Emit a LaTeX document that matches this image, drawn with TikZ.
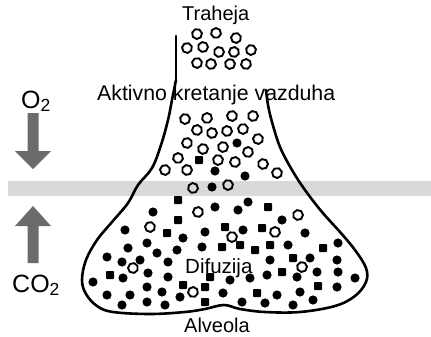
\documentclass[tikz,border=0pt]{standalone}
\usepackage{fontspec}
\setmainfont{Liberation Sans}
\definecolor{arrowgray}{gray}{0.42}
\definecolor{bandgray}{gray}{0.85}
\begin{document}
\begin{tikzpicture}[x=1pt,y=-1pt,
  lbl/.style={inner sep=0pt, anchor=base west, font=\fontsize{20}{20}\selectfont},
  gas/.style={inner sep=0pt, anchor=base west, font=\fontsize{25}{25}\selectfont},
  wall/.style={line width=2.6pt, line cap=round, line join=round},
  opn/.style={line width=1.9pt, line join=round},
  flow/.style={fill=arrowgray},
]
\useasboundingbox (0,0) rectangle (431,337);

% membrane band
\fill[bandgray] (8,181) rectangle (431,196);

% gas flow arrows
\fill[flow] (27.5,113) -- (38.5,113) -- (38.5,151) -- (51,151) -- (33,169)
  -- (15,151) -- (27.5,151) -- cycle;
\fill[flow] (27.5,263) -- (38.5,263) -- (38.5,226) -- (51,226) -- (33,206)
  -- (15,226) -- (27.5,226) -- cycle;

% trachea and alveolus wall
\draw[wall] (176,36) -- (176,80);
\draw[wall] plot[smooth, tension=0.6] coordinates {
  (176,80) (172,100) (168,120) (161,145) (152,168) (138,185) (128,203)
  (112,222) (97,240) (86,260) (82,280) (86,294) (97,306) (113,312)
  (150,314) (185,312) (205,309) (224,305) (240,309) (265,312) (300,312)
  (335,306) (355,296) (366,282) (366,268) (355,250) (340,232) (322,212)
  (305,190) (292,170) (280,147) (272,122) (268,105) (266,90)};

% oxygen molecules (open)
\foreach \x/\y/\r in {
  197/34/10, 216/33/40, 236/38/70,
  187/48/20, 203/47/50, 219/52/0, 234/52/30, 251/50/60,
  197/63/15, 211/64/45, 230/64/5, 246/64/35,
  185/119/10, 207/118/40, 232/116/20, 253/116/50,
  197/130/30, 212/133/0, 227/131/45, 243/129/15,
  187/143/25, 203/149/55, 223/147/5, 248/152/35, 258/139/20,
  178/158/40, 218/160/10, 235/162/30, 263/164/0,
  165/170/20, 187/170/50, 277/173/15,
  193/188/45, 228/185/10,
  198/212/30, 298/215/0, 150/227/20, 275/232/40, 232/237/10,
  133/268/25, 302/267/5, 193/292/35}
  \draw[opn, shift={(\x,\y)}, rotate=\r]
    (0:5) -- (51.4:5) -- (102.8:5) -- (154.3:5) -- (205.7:5)
    -- (257.1:5) -- (308.6:5) -- cycle;

% carbon dioxide molecules (filled round)
\foreach \x/\y in {
  237/143, 215/171, 245/176, 212/187,
  215/207, 238/210, 248/202, 153/212, 282/220, 125/230, 183/238, 205/232,
  243/230, 305/233, 128/248, 147/243, 157/253, 177/250, 202/247, 288/245,
  338/243, 107/257, 122/262, 140/260, 168/262, 270/260, 310/258, 337/260,
  317/272, 338/272, 355/278, 93/282, 123/278, 148/273, 168/277, 230/280,
  250/278, 267/275, 297/277, 147/287, 162/292, 223/293, 277/295, 300/292,
  337/287, 107/295, 130/295, 122/305, 147/302, 165/305, 180/297, 242/302,
  265/303, 293/305, 313/300}
  \fill (\x,\y) circle (4.6);

% carbon dioxide molecules (filled square)
\foreach \x/\y in {
  199/160, 178/200, 268/207, 178/220, 167/233, 225/227, 262/228,
  222/247, 240/245, 255/250, 270/245, 323/248, 293/258, 110/275,
  210/277, 282/272, 183/285, 205/287, 257/293, 318/286, 205/302}
  \fill[shift={(\x,\y)}, rounded corners=0.8pt] (-4,-4) rectangle (4,4);

% labels
\node[lbl] (traheja) at (182,21) {Traheja};
\node[lbl, font=\fontsize{21.3}{21.3}\selectfont] (aktivno) at (97,100) {Aktivno kretanje vazduha};
\node[lbl, font=\fontsize{20.5}{20.5}\selectfont] (difuzija) at (185,273) {Difuzija};
\node[lbl] (alveola) at (184,332) {Alveola};
\node[gas] (otwo) at (21,108) {O\textsubscript{2}};
\node[gas] (cotwo) at (12,292) {CO\textsubscript{2}};
\end{tikzpicture}
\end{document}
